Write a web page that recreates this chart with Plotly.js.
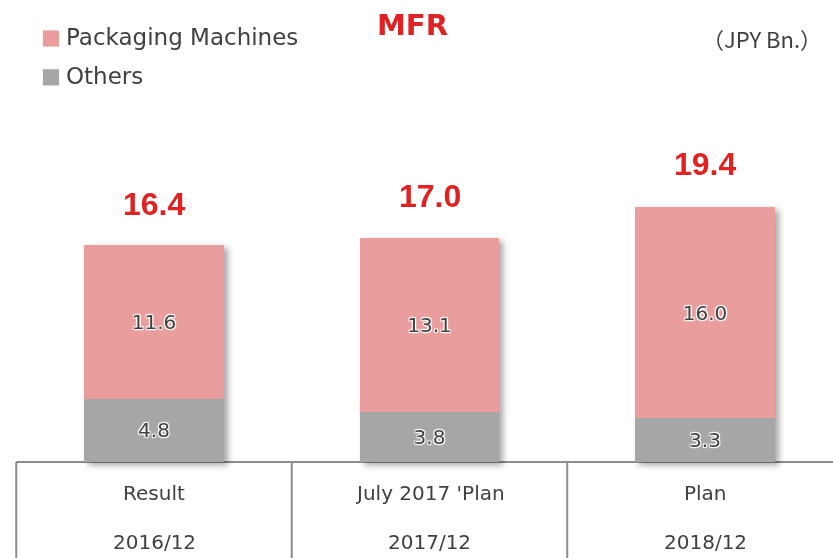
<!DOCTYPE html>
<html>
<head>
<meta charset="utf-8">
<script src="https://cdn.plot.ly/plotly-3.0.1.min.js"></script>
<style>
  html, body { margin: 0; padding: 0; background: #fff; }
  #chart { width: 833px; height: 558px; }
  #chart .barlayer { filter: drop-shadow(4px 3px 3px rgba(0,0,0,0.35)); }
  #chart .legend .legendpoints path { transform: translate(25px, 2px) scale(1.35); }
</style>
</head>
<body>
<div id="chart"></div>
<script>
// ---- data ----
var categories = ["Result", "July 2017 'Plan", "Plan"];
var periods = ["2016/12", "2017/12", "2018/12"];
var packagingMachines = [11.6, 13.1, 16.0];
var others = [4.8, 3.8, 3.3];
var totals = [16.4, 17.0, 19.4];
var seriesNames = ["Packaging Machines", "Others"];
var chartTitle = "MFR";
var unitLabel = "（JPY Bn.）";

// ---- styles ----
var pink = "#EA9D9D";
var gray = "#A6A6A6";
var textDark = "#404040";
var red = "#E02222";
var lineGray = "#8C8C8C";
var labelShadow = "1px 1px 1px #fff, -1px -1px 1px #fff, 1px -1px 1px #fff, -1px 1px 1px #fff, 0 0 2px #fff";

var xIdx = categories.map(function (_, i) { return i; });
function fmt(v) { return v.toFixed(1); }

var traceOthers = {
  type: "bar", name: seriesNames[1], x: xIdx, y: others,
  legendgroup: "g2", legendrank: 2,
  marker: { color: gray, line: { width: 0 } },
  width: 0.508,
  text: others.map(fmt), texttemplate: "%{text}",
  textposition: "inside", insidetextanchor: "middle",
  textfont: { family: "DejaVu Sans", size: 20, color: textDark, shadow: labelShadow },
  hoverinfo: "skip"
};
var tracePack = {
  type: "bar", name: seriesNames[0], x: xIdx, y: packagingMachines,
  legendgroup: "g1", legendrank: 1,
  marker: { color: pink, line: { width: 0 } },
  width: 0.508,
  text: packagingMachines.map(fmt), texttemplate: "%{text}",
  textposition: "inside", insidetextanchor: "middle",
  textfont: { family: "DejaVu Sans", size: 20, color: textDark, shadow: labelShadow },
  hoverinfo: "skip"
};

var pxPerUnit = 13.23;
var yMin = -96 / pxPerUnit, yMax = 462 / pxPerUnit;
var xMin = -154 / 275.5, xMax = xMin + 833 / 275.5;

var annotations = [];
totals.forEach(function (t, i) {
  annotations.push({
    x: i, y: t, xref: "x", yref: "y", text: fmt(t), showarrow: false,
    yanchor: "middle", yshift: 41,
    font: { family: "Liberation Sans", size: 32, color: red, weight: "bold" }
  });
  annotations.push({
    x: i, y: 1 - 493 / 558, xref: "x", yref: "paper", text: categories[i], showarrow: false,
    yanchor: "middle", font: { family: "DejaVu Sans", size: 20, color: textDark }
  });
  annotations.push({
    x: i, y: 1 - 542 / 558, xref: "x", yref: "paper", text: periods[i], showarrow: false,
    yanchor: "middle", font: { family: "DejaVu Sans", size: 20, color: textDark }
  });
});
annotations.push({
  x: 412 / 833, y: 1 - 25 / 558, xref: "paper", yref: "paper", text: chartTitle, showarrow: false,
  xanchor: "center", yanchor: "middle",
  font: { family: "DejaVu Sans", size: 29, color: red, weight: "bold" }
});
annotations.push({
  x: 824 / 833, y: 1 - 38 / 558, xref: "paper", yref: "paper", text: unitLabel, showarrow: false,
  xanchor: "right", yanchor: "middle",
  font: { family: "Noto Sans CJK JP", size: 22, color: textDark }
});

var shapes = [
  { type: "line", xref: "x", yref: "y", x0: -0.5, x1: 2.5, y0: 0, y1: 0, line: { color: lineGray, width: 2 }, layer: "below" },
  { type: "line", xref: "x", yref: "y", x0: -0.5, x1: -0.5, y0: 0, y1: yMin, line: { color: lineGray, width: 2 }, layer: "below" },
  { type: "line", xref: "x", yref: "y", x0: 0.5, x1: 0.5, y0: 0, y1: yMin, line: { color: lineGray, width: 2 }, layer: "below" },
  { type: "line", xref: "x", yref: "y", x0: 1.5, x1: 1.5, y0: 0, y1: yMin, line: { color: lineGray, width: 2 }, layer: "below" }
];

var layout = {
  width: 833, height: 558,
  margin: { l: 0, r: 0, t: 0, b: 0, pad: 0 },
  paper_bgcolor: "#fff", plot_bgcolor: "#fff",
  barmode: "stack",
  showlegend: true,
  legend: {
    x: 26 / 833, y: 1 - 15 / 558, xanchor: "left", yanchor: "top",
    traceorder: "grouped", tracegroupgap: 6, orientation: "v",
    font: { family: "DejaVu Sans", size: 23, color: textDark },
    bgcolor: "rgba(0,0,0,0)", borderwidth: 0
  },
  xaxis: { range: [xMin, xMax], showgrid: false, zeroline: false, showticklabels: false, ticks: "", showline: false, fixedrange: true },
  yaxis: { range: [yMin, yMax], showgrid: false, zeroline: false, showticklabels: false, ticks: "", showline: false, fixedrange: true },
  annotations: annotations,
  shapes: shapes,
  hovermode: false
};

Plotly.newPlot("chart", [traceOthers, tracePack], layout, { staticPlot: true, displayModeBar: false });
</script>
</body>
</html>
